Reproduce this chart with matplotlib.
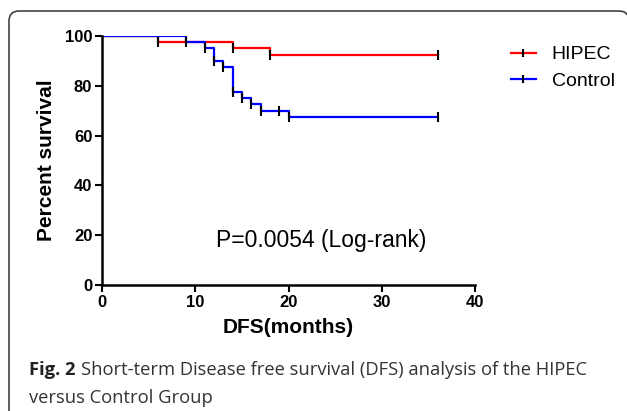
import matplotlib.pyplot as plt
from matplotlib.path import Path
from matplotlib.patches import PathPatch

# Kaplan-Meier data (months, percent survival)
hipec_t = [0, 6, 14, 18, 36]
hipec_s = [100, 97.5, 95, 92.5, 92.5]
control_t = [0, 9, 11, 12, 13, 14, 15, 16, 17, 20, 36]
control_s = [100, 97.5, 95, 90, 87.5, 77.5, 75, 72.5, 70, 67.5, 67.5]

# censor marks
hipec_cens_t = [6, 14, 18, 36]
hipec_cens_s = [97.5, 95, 92.5, 92.5]
control_cens_t = [9, 11, 12, 13, 14, 15, 16, 17, 19, 20, 36]
control_cens_s = [97.5, 95, 90, 87.5, 77.5, 75, 72.5, 70, 70, 67.5, 67.5]

x_ticks = [0, 10, 20, 30, 40]
y_ticks = [0, 20, 40, 60, 80, 100]

W, H = 627, 411
fig = plt.figure(figsize=(W / 100, H / 100), dpi=100)
ax = fig.add_axes([102 / W, (H - 285) / H, (475 - 102) / W, (285 - 36) / H])

ax.step(hipec_t, hipec_s, where='post', color='#ff0000', lw=1.6, label='HIPEC')
ax.step(control_t, control_s, where='post', color='#0000ff', lw=1.6, label='Control')
ax.plot(hipec_cens_t, hipec_cens_s, ls='none', marker='|', color='black', ms=7, mew=1.5)
ax.plot(control_cens_t, control_cens_s, ls='none', marker='|', color='black', ms=7, mew=1.5)

ax.set_xlim(0, 40)
ax.set_ylim(0, 100)
ax.set_xticks(x_ticks)
ax.set_yticks(y_ticks)
for s in ['top', 'right']:
    ax.spines[s].set_visible(False)
for s in ['left', 'bottom']:
    ax.spines[s].set_linewidth(1.8)
ax.tick_params(direction='out', length=5, width=1.5, labelsize=12, pad=2)
for lab in ax.get_xticklabels() + ax.get_yticklabels():
    lab.set_fontfamily('Liberation Sans')
    lab.set_fontweight('bold')

ax.set_xlabel('DFS(months)', fontsize=15, fontweight='bold', family='Liberation Sans', labelpad=6)
ax.set_ylabel('Percent survival', fontsize=15, fontweight='bold', family='Liberation Sans', labelpad=6)

ax.text(23.5, 17.9, 'P=0.0054 (Log-rank)', fontsize=16.5, family='Liberation Sans', ha='center', va='center')

# legend with tick marks
h1, = ax.plot([], [], color='#ff0000', lw=1.6, marker='|', mec='black', ms=6, mew=1.5)
h2, = ax.plot([], [], color='#0000ff', lw=1.6, marker='|', mec='black', ms=6, mew=1.5)
fig.legend([h1, h2], ['HIPEC', 'Control'], loc='upper left', bbox_to_anchor=(501 / W, 1 - 36 / H),
           frameon=False, prop={'family': 'Liberation Sans', 'size': 14},
           handlelength=1.3, handletextpad=0.8, labelspacing=0.45, borderpad=0)

# caption
cap_font = 13.2
t1 = fig.text(29 / W, 1 - 375 / H, 'Fig. 2', fontsize=cap_font, family='Open Sans',
              fontweight='bold', color='#222222', va='baseline')
fig.canvas.draw()
bb = t1.get_window_extent()
fig.text((bb.x1 + 5) / W, 1 - 375 / H, 'Short-term Disease free survival (DFS) analysis of the HIPEC',
         fontsize=cap_font, family='Open Sans', color='#333333', va='baseline')
fig.text(29 / W, 1 - 403 / H, 'versus Control Group',
         fontsize=cap_font, family='Open Sans', color='#333333', va='baseline')

# frame border (left and top with rounded corners)
r = 10
verts = [(9, H), (9, 11 + r), (9, 11), (9 + r, 11), (618, 11), (626, 11), (627, 15)]
codes = [Path.MOVETO, Path.LINETO, Path.CURVE3, Path.CURVE3, Path.LINETO, Path.CURVE3, Path.CURVE3]
verts = [(x / W, 1 - y / H) for x, y in verts]
fig.patches.append(PathPatch(Path(verts, codes), transform=fig.transFigure,
                             fill=False, edgecolor='#333333', lw=1.1))

fig.savefig('out.png', dpi=100)
